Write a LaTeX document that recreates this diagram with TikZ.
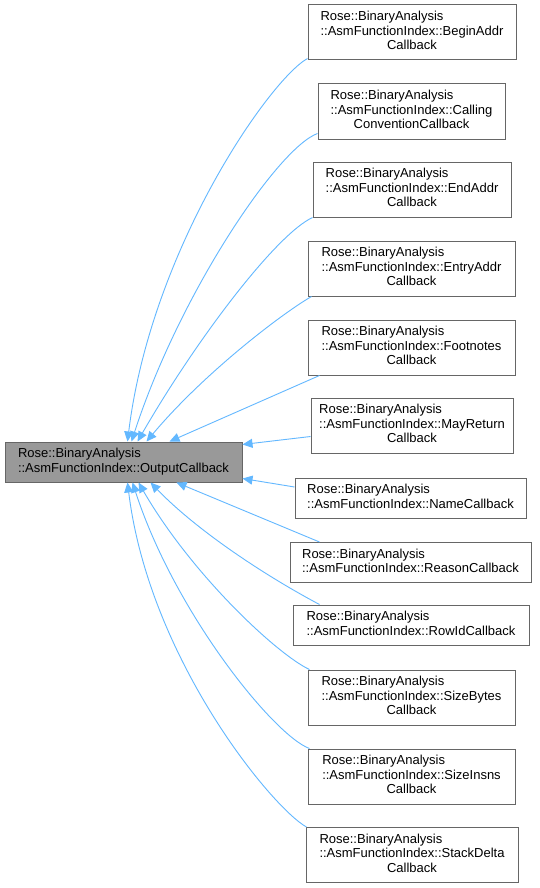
\documentclass[tikz,border=0pt]{standalone}
\usepackage{fontspec}
\setmainfont{Liberation Sans}
\usepackage{tikz}
\usetikzlibrary{arrows.meta}
\definecolor{inhblue}{HTML}{63B8FF}
\definecolor{clsborder}{HTML}{666666}
\definecolor{clsbase}{HTML}{999999}
% class labels: first line flush left, the rest centred
\newcommand{\clstwo}[1]{\begin{tabular}{@{}c@{}}\multicolumn{1}{@{}l@{}}{Rose::BinaryAnalysis}\\#1\end{tabular}}
\newcommand{\clsthree}[2]{\begin{tabular}{@{}c@{}}\multicolumn{1}{@{}l@{}}{Rose::BinaryAnalysis}\\#1\\#2\end{tabular}}
\tikzset{
  cls/.style={rectangle, draw=clsborder, fill=white, line width=1pt,
              inner sep=0pt, minimum height=55pt,
              font=\fontsize{13}{14.5}\selectfont},
  clsflat/.style={cls, minimum height=40pt},
  basecls/.style={clsflat, fill=clsbase},
  inh/.style={-{Triangle[length=10pt,width=9pt]}, draw=inhblue, line width=0.9pt},
}

\begin{document}
\begin{tikzpicture}[x=1pt, y=1pt]
  \fill[white] (0,0) rectangle (539,-888);
  \useasboundingbox (0,0) rectangle (539,-888);
  % Base class
  \node[basecls, minimum width=237pt] (outcb) at (123.5,-462) {\clstwo{::AsmFunctionIndex::OutputCallback}};
  % Derived classes
  \node[cls, minimum width=208pt] (beginaddr) at (412,-32.5) {\clsthree{::AsmFunctionIndex::BeginAddr}{Callback}};
  \node[cls, minimum width=187pt] (callconv) at (411.5,-111.5) {\clsthree{::AsmFunctionIndex::Calling}{ConventionCallback}};
  \node[cls, minimum width=198pt] (endaddr) at (412,-189.5) {\clsthree{::AsmFunctionIndex::EndAddr}{Callback}};
  \node[cls, minimum width=207pt] (entryaddr) at (411.5,-268.5) {\clsthree{::AsmFunctionIndex::EntryAddr}{Callback}};
  \node[cls, minimum width=207pt] (footnotes) at (411.5,-347.5) {\clsthree{::AsmFunctionIndex::Footnotes}{Callback}};
  \node[cls, minimum width=202pt] (mayreturn) at (412,-425.5) {\clsthree{::AsmFunctionIndex::MayReturn}{Callback}};
  \node[clsflat, minimum width=231pt] (namecb) at (410.5,-498) {\clstwo{::AsmFunctionIndex::NameCallback}};
  \node[clsflat, minimum width=241pt] (reasoncb) at (410.5,-562.5) {\clstwo{::AsmFunctionIndex::ReasonCallback}};
  \node[clsflat, minimum width=236pt] (rowidcb) at (411,-625) {\clstwo{::AsmFunctionIndex::RowIdCallback}};
  \node[cls, minimum width=207pt] (sizebytes) at (411.5,-697.5) {\clsthree{::AsmFunctionIndex::SizeBytes}{Callback}};
  \node[cls, minimum width=207pt] (sizeinsns) at (411.5,-776.5) {\clsthree{::AsmFunctionIndex::SizeInsns}{Callback}};
  \node[cls, minimum width=212pt] (stackdelta) at (412,-855) {\clsthree{::AsmFunctionIndex::StackDelta}{Callback}};
  % Inheritance arrows (upper)
  \draw[inh] ([yshift=2pt]beginaddr.south west) to[out=209, in=83, out looseness=0.26, in looseness=1.17] ([xshift=123pt]outcb.north west);
  \draw[inh] ([yshift=6pt]callconv.south west) to[out=200, in=72, out looseness=0.3, in looseness=1.1] ([xshift=127pt]outcb.north west);
  \draw[inh] (endaddr.south west) to[out=205, in=60, out looseness=0.36, in looseness=1.07] ([xshift=133pt]outcb.north west);
  \draw[inh] ([xshift=4pt]entryaddr.south west) to[out=210, in=50, out looseness=0.4, in looseness=1.04] ([xshift=142pt]outcb.north west);
  \draw[inh] ([xshift=12pt]footnotes.south west) -- ([xshift=165pt]outcb.north west);
  \draw[inh] ([yshift=-11pt]mayreturn.west) -- ([yshift=-3pt]outcb.north east);
  % Inheritance arrows (lower)
  \draw[inh] ([yshift=11pt]namecb.west) -- ([yshift=4pt]outcb.south east);
  \draw[inh] ([xshift=30pt]reasoncb.north west) -- ([xshift=172pt]outcb.south west);
  \draw[inh] ([xshift=27pt]rowidcb.north west) to[out=152, in=-46, looseness=0.8] ([xshift=146pt]outcb.south west);
  \draw[inh] ([xshift=2pt]sizebytes.north west) to[out=155, in=-60, out looseness=0.36, in looseness=1.07] ([xshift=134pt]outcb.south west);
  \draw[inh] ([xshift=2pt]sizeinsns.north west) to[out=160, in=-72, out looseness=0.3, in looseness=1.1] ([xshift=128pt]outcb.south west);
  \draw[inh] ([xshift=1pt]stackdelta.north west) to[out=151, in=-83, out looseness=0.26, in looseness=1.17] ([xshift=123pt]outcb.south west);
\end{tikzpicture}
\end{document}
